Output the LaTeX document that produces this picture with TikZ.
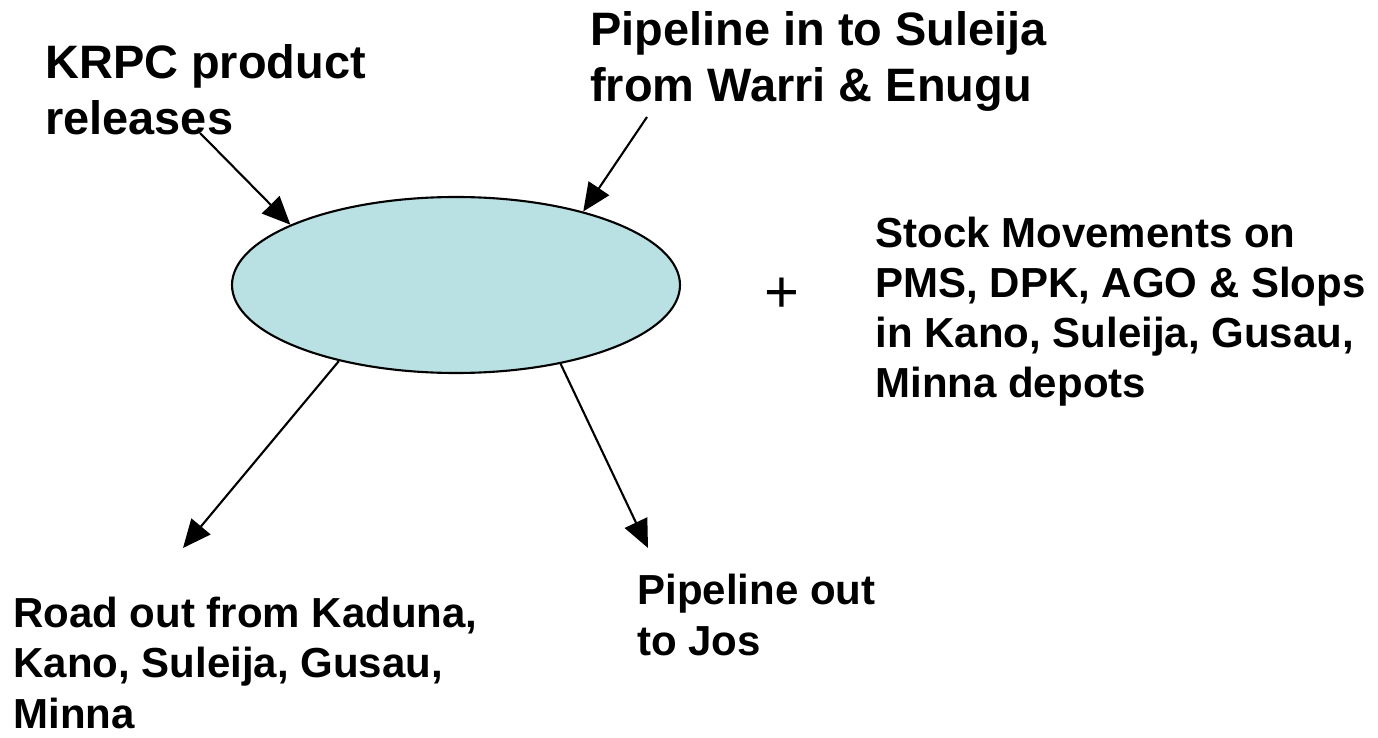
\documentclass[tikz,border=0pt]{standalone}
\usepackage{fontspec}
\setmainfont{Liberation Sans}
\usetikzlibrary{arrows.meta,shapes.geometric}
\definecolor{hubfill}{RGB}{185,224,227}
\begin{document}
\begin{tikzpicture}[
    bigtxt/.style={inner sep=0pt, anchor=base west, align=left, font=\bfseries\fontsize{26.7}{32.4}\selectfont},
    smalltxt/.style={inner sep=0pt, anchor=base west, align=left, font=\bfseries\fontsize{23.9}{28.5}\selectfont},
    flow/.style={line width=1.2pt, -{Triangle[length=16pt,width=14pt]}}
  ]
    \useasboundingbox (0,0) rectangle (27.56,-14.76);
    \node[ellipse, draw, line width=1.2pt, fill=hubfill, minimum width=8.96cm, minimum height=3.52cm, inner sep=0pt] (hub) at (9.12,-5.7) {};
    % base = last line
    \node[bigtxt] (krpc) at (0.9,-2.7) {KRPC product\\releases};
    \node[bigtxt] (pipein) at (11.8,-2.04) {Pipeline in to Suleija\\from Warri \& Enugu};
    \node[smalltxt] (stock) at (17.5,-7.96) {Stock Movements on\\PMS, DPK, AGO \& Slops\\in Kano, Suleija, Gusau,\\Minna depots};
    \node[inner sep=0pt, font=\fontsize{34}{34}\selectfont] (plus) at (15.64,-5.9) {+};
    \node[smalltxt] (road) at (0.26,-14.56) {Road out from Kaduna,\\Kano, Suleija, Gusau,\\Minna};
    \node[smalltxt] (pipeout) at (12.74,-13.1) {Pipeline out\\to Jos};
    % arrow ends
    \coordinate (krpcend) at (4.0,-2.66);
    \coordinate (pipeinend) at (12.94,-2.34);
    \coordinate (roadend) at (3.66,-10.96);
    \coordinate (pipeoutend) at (12.96,-10.96);
    \draw[flow] (krpcend) -- (hub.160);
    \draw[flow] (pipeinend) -- (hub.30);
    \draw[flow] (hub.-147) -- (roadend);
    \draw[flow] (hub.-37) -- (pipeoutend);
\end{tikzpicture}
\end{document}
